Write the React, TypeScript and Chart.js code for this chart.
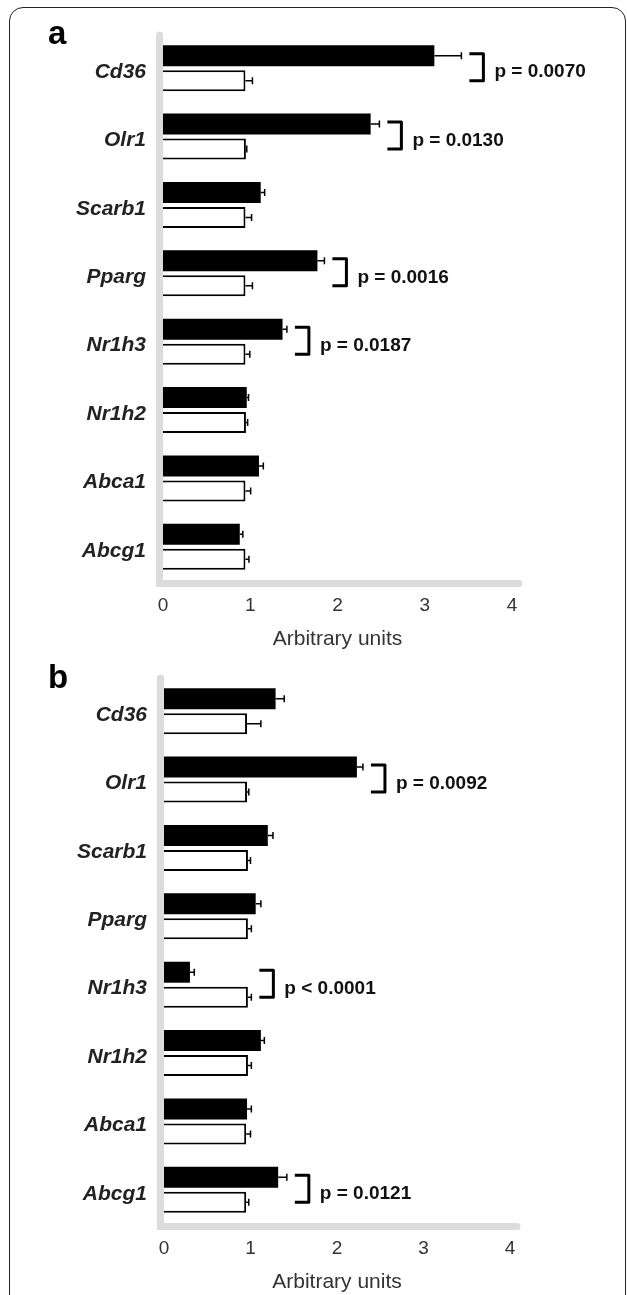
import React, { useEffect, useRef } from "react";
import { Chart, registerables } from "chart.js";

Chart.register(...registerables);

const FONT = '"Liberation Sans", Arial, Helvetica, sans-serif';

const genes = ["Cd36", "Olr1", "Scarb1", "Pparg", "Nr1h3", "Nr1h2", "Abca1", "Abcg1"];
const xTicks = [0, 1, 2, 3, 4];
const axisTitle = "Arbitrary units";

// Panel a
const aTreated = [3.11, 2.38, 1.12, 1.77, 1.37, 0.96, 1.1, 0.88];
const aTreatedErr = [0.31, 0.1, 0.045, 0.08, 0.05, 0.02, 0.05, 0.035];
const aControl = [0.945, 0.95, 0.945, 0.945, 0.945, 0.95, 0.945, 0.945];
const aControlErr = [0.08, 0.01, 0.07, 0.08, 0.05, 0.02, 0.06, 0.04];
const aPValues: (string | null)[] = ["p = 0.0070", "p = 0.0130", null, "p = 0.0016", "p = 0.0187", null, null, null];

// Panel b
const bTreated = [1.29, 2.23, 1.2, 1.06, 0.3, 1.12, 0.96, 1.32];
const bTreatedErr = [0.1, 0.07, 0.06, 0.06, 0.05, 0.04, 0.05, 0.1];
const bControl = [0.96, 0.96, 0.97, 0.97, 0.97, 0.97, 0.95, 0.95];
const bControlErr = [0.16, 0.02, 0.03, 0.04, 0.04, 0.04, 0.05, 0.03];
const bPValues: (string | null)[] = [null, "p = 0.0092", null, null, "p < 0.0001", null, null, "p = 0.0121"];

const overlayPlugin = {
  id: "overlay",
  beforeDatasetsDraw(chart: any) {
    const { ctx, chartArea } = chart;
    ctx.save();
    ctx.strokeStyle = "#dcdcdc";
    ctx.lineWidth = 7;
    ctx.lineCap = "round";
    const ax = chartArea.left - 3.5;
    const ay = chartArea.bottom + 2.5;
    ctx.beginPath();
    ctx.moveTo(ax, chartArea.top + 1);
    ctx.lineTo(ax, ay);
    ctx.lineTo(chartArea.right + 7, ay);
    ctx.stroke();
    ctx.restore();
  },
  afterDatasetsDraw(chart: any, _args: any, opts: any) {
    const { ctx } = chart;
    const xs = chart.scales.x;
    const errs: number[][] = opts.errs;
    const pvals: (string | null)[] = opts.pvals;
    ctx.save();
    ctx.strokeStyle = "#000";
    ctx.fillStyle = "#111";
    // error bars
    ctx.lineWidth = 1.5;
    chart.data.datasets.forEach((ds: any, di: number) => {
      const meta = chart.getDatasetMeta(di);
      meta.data.forEach((bar: any, i: number) => {
        const v = ds.data[i];
        const e = errs[di][i];
        const x1 = xs.getPixelForValue(v);
        const x2 = xs.getPixelForValue(v + e);
        const y = bar.y;
        ctx.beginPath();
        ctx.moveTo(x1, y);
        ctx.lineTo(x2, y);
        ctx.moveTo(x2, y - 3.5);
        ctx.lineTo(x2, y + 3.5);
        ctx.stroke();
      });
    });
    // brackets + p values
    const m0 = chart.getDatasetMeta(0);
    const m1 = chart.getDatasetMeta(1);
    const d0 = chart.data.datasets[0].data;
    const d1 = chart.data.datasets[1].data;
    pvals.forEach((p, i) => {
      if (!p) return;
      const maxV = Math.max(d0[i] + errs[0][i], d1[i] + errs[1][i]);
      const xl = xs.getPixelForValue(maxV) + 8;
      const xr = xl + 14;
      const yt = m0.data[i].y - 2;
      const yb = m1.data[i].y;
      ctx.lineWidth = 3;
      ctx.lineJoin = "round";
      ctx.beginPath();
      ctx.moveTo(xl, yt);
      ctx.lineTo(xr, yt);
      ctx.lineTo(xr, yb);
      ctx.lineTo(xl, yb);
      ctx.stroke();
      ctx.font = `bold 19px ${FONT}`;
      ctx.textBaseline = "middle";
      ctx.textAlign = "left";
      ctx.fillText(p, xr + 11, (yt + yb) / 2 + 5);
    });
    // panel letter
    ctx.font = `bold 33px ${FONT}`;
    ctx.textBaseline = "alphabetic";
    ctx.textAlign = "left";
    ctx.fillStyle = "#000";
    ctx.fillText(opts.letter, 48, opts.letterY);
    ctx.restore();
  },
};

type PanelProps = {
  top: number;
  letter: string;
  letterY: number;
  treated: number[];
  treatedErr: number[];
  control: number[];
  controlErr: number[];
  pvals: (string | null)[];
  left: number;
  rightPad: number;
};

function Panel(props: PanelProps) {
  const ref = useRef<HTMLCanvasElement | null>(null);
  useEffect(() => {
    if (!ref.current) return;
    const chart = new Chart(ref.current, {
      type: "bar",
      data: {
        labels: genes,
        datasets: [
          {
            data: props.treated,
            backgroundColor: "#000",
            borderColor: "#000",
            borderWidth: 0,
            categoryPercentage: 0.73,
            barPercentage: 0.84,
          },
          {
            data: props.control,
            backgroundColor: "#fff",
            borderColor: "#000",
            borderWidth: 2,
            borderSkipped: "start",
            categoryPercentage: 0.73,
            barPercentage: 0.84,
          },
        ],
      },
      options: {
        animation: false,
        responsive: false,
        indexAxis: "y",
        layout: { padding: { left: 0, top: 34, right: props.rightPad, bottom: 0 } },
        plugins: {
          legend: { display: false },
          tooltip: { enabled: false },
          overlay: {
            errs: [props.treatedErr, props.controlErr],
            pvals: props.pvals,
            letter: props.letter,
            letterY: props.letterY,
          },
        } as any,
        scales: {
          x: {
            min: 0,
            max: 4,
            afterBuildTicks: (s: any) => {
              s.ticks = xTicks.map((v) => ({ value: v }));
            },
            grid: { display: false, drawTicks: false },
            border: { display: false },
            ticks: { font: { family: FONT, size: 19 }, color: "#333", padding: 13 },
            title: {
              display: true,
              text: axisTitle,
              font: { family: FONT, size: 21 },
              color: "#333",
              padding: 0,
            },
            afterFit: (s: any) => {
              s.height = 71;
            },
          },
          y: {
            grid: { display: false, drawTicks: false },
            border: { display: false },
            ticks: {
              font: { family: FONT, size: 21, style: "italic", weight: "bold" },
              color: "#222",
              padding: 17,
              labelOffset: 4,
            },
            afterFit: (s: any) => {
              s.width = props.left;
            },
          },
        } as any,
      },
      plugins: [overlayPlugin],
    });
    return () => chart.destroy();
  }, []);
  return (
    <canvas
      ref={ref}
      width={627}
      height={652}
      style={{ position: "absolute", left: 0, top: props.top, width: 627, height: 652 }}
    />
  );
}

export default function App() {
  return (
    <div
      style={{
        position: "absolute",
        left: 0,
        top: 0,
        width: 627,
        height: 1295,
        overflow: "hidden",
        background: "#fff",
      }}
    >
      <div
        style={{
          position: "absolute",
          left: 9,
          top: 7,
          width: 617,
          height: 1400,
          boxSizing: "border-box",
          border: "1.5px solid #222",
          borderRadius: 14,
        }}
      />
      <Panel
        top={0}
        letter="a"
        letterY={44}
        treated={aTreated}
        treatedErr={aTreatedErr}
        control={aControl}
        controlErr={aControlErr}
        pvals={aPValues}
        left={163}
        rightPad={115}
      />
      <Panel
        top={643}
        letter="b"
        letterY={45}
        treated={bTreated}
        treatedErr={bTreatedErr}
        control={bControl}
        controlErr={bControlErr}
        pvals={bPValues}
        left={164}
        rightPad={117}
      />
    </div>
  );
}
